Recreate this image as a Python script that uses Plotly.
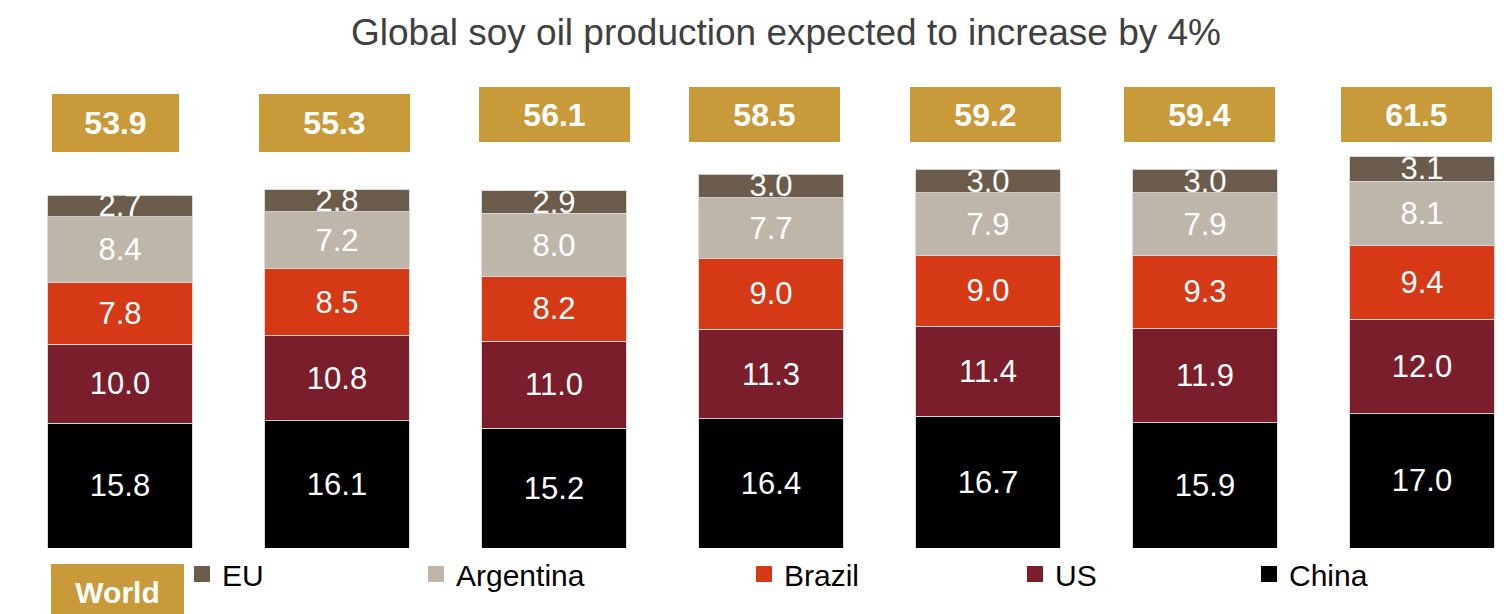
import plotly.graph_objects as go

# Soy oil production by origin (million tonnes), seven consecutive periods
bar_slots = [0, 1, 2, 3, 4, 5, 6]
world_total = [53.9, 55.3, 56.1, 58.5, 59.2, 59.4, 61.5]
china = [15.8, 16.1, 15.2, 16.4, 16.7, 15.9, 17.0]
us = [10.0, 10.8, 11.0, 11.3, 11.4, 11.9, 12.0]
brazil = [7.8, 8.5, 8.2, 9.0, 9.0, 9.3, 9.4]
argentina = [8.4, 7.2, 8.0, 7.7, 7.9, 7.9, 8.1]
eu = [2.7, 2.8, 2.9, 3.0, 3.0, 3.0, 3.1]

GOLD = "#C99A3A"
FONT = "Liberation Sans, Arial, sans-serif"

W, H = 1506, 614
M_T, M_B = 70, 66
PX_PER_UNIT = 7.89
SLOT_PX = 217.0
FIRST_CENTER_PX = 120.0

series = [
    ("China", china, "#000000", "legend5"),
    ("US", us, "#7B1E2B", "legend4"),
    ("Brazil", brazil, "#D63916", "legend3"),
    ("Argentina", argentina, "#BFB6AA", "legend2"),
    ("EU", eu, "#6B5C4C", "legend"),
]

fig = go.Figure()
for name, vals, color, lg in series:
    fig.add_trace(go.Bar(
        x=bar_slots, y=vals, name=name, showlegend=False,
        marker=dict(color=color, line=dict(color="rgba(215,215,215,0.9)", width=1)),
        texttemplate="%{y:.1f}", textposition="inside", insidetextanchor="middle",
        textangle=0, constraintext="none",
        textfont=dict(family=FONT, size=31, color="white"),
        hoverinfo="skip",
    ))
    # legend key: a square swatch per series, each in its own legend box
    fig.add_trace(go.Scatter(
        x=[None], y=[None], mode="markers", name=name,
        marker=dict(symbol="square", size=16, color=color),
        legend=lg, showlegend=True, hoverinfo="skip",
    ))

plot_h = H - M_T - M_B
x0 = -FIRST_CENTER_PX / SLOT_PX
x1 = x0 + W / SLOT_PX

# Gold total boxes above each stack
box_w = [127, 151, 151, 151, 151, 151, 151]
box_h = [58, 58, 55, 55, 55, 55, 55]
box_center_px = [123, 123, 114.5, 114.5, 114.5, 114.5, 114.5]
box_xshift = [-4.5, -2.5, 0, -6.5, -2.5, -5.5, -5.5]
annotations = []
for i, tot in enumerate(world_total):
    annotations.append(dict(
        x=bar_slots[i], y=(H - M_B - box_center_px[i]) / PX_PER_UNIT,
        xref="x", yref="y", xanchor="center", yanchor="middle",
        text=f"<b>{tot:.1f}</b>", showarrow=False,
        width=box_w[i], height=box_h[i], bgcolor=GOLD,
        borderpad=0, borderwidth=0, xshift=box_xshift[i],
        font=dict(family=FONT, size=32, color="white"), align="center", valign="middle",
    ))

# "World" key box in the legend row
annotations.append(dict(
    x=117.5 / W, y=(H - M_B - 592) / plot_h, xref="paper", yref="paper",
    xanchor="center", yanchor="middle",
    text="<b>World</b>", showarrow=False, width=133, height=56, bgcolor=GOLD,
    borderpad=0, borderwidth=0,
    font=dict(family=FONT, size=30, color="white"), align="center", valign="middle",
))

legend_left_px = {"legend": 182, "legend2": 416, "legend3": 744, "legend4": 1015, "legend5": 1249}
legend_y = (H - M_B - 574) / plot_h
legend_layout = {}
for key, px in legend_left_px.items():
    legend_layout[key] = dict(
        x=px / W, xanchor="left", y=legend_y, yanchor="middle",
        orientation="h", bgcolor="rgba(0,0,0,0)", borderwidth=0,
        itemsizing="trace",
        font=dict(family=FONT, size=30, color="black"),
    )

fig.update_layout(
    width=W, height=H,
    margin=dict(l=0, r=0, t=M_T, b=M_B, pad=0),
    barmode="stack", bargap=1 - 144.5 / SLOT_PX,
    plot_bgcolor="white", paper_bgcolor="white",
    title=dict(
        text="Global soy oil production expected to increase by 4%",
        x=786 / W, xanchor="center", xref="paper",
        y=1 - 32 / H, yanchor="middle", yref="container",
        font=dict(family=FONT, size=37, color="#404040"),
    ),
    xaxis=dict(range=[x0, x1], visible=False, fixedrange=True),
    yaxis=dict(range=[0, plot_h / PX_PER_UNIT], visible=False, fixedrange=True),
    annotations=annotations,
    **legend_layout,
)

fig.write_html("out.html")
